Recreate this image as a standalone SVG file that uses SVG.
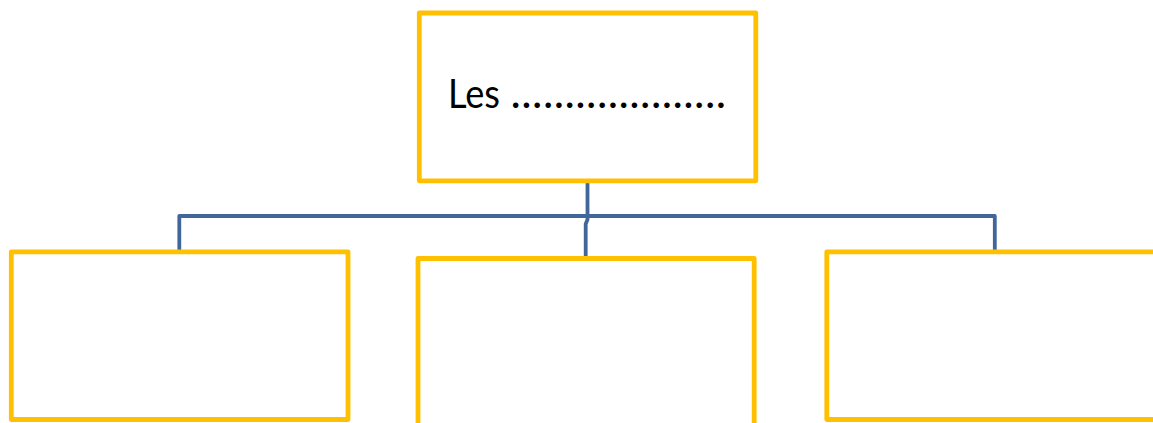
<svg xmlns="http://www.w3.org/2000/svg" width="1153" height="423" viewBox="0 0 1153 423">
<style>
.box{fill:#FFFFFF;stroke:#FFC000;stroke-width:4.8;stroke-linejoin:round}
.conn{fill:none;stroke:#41679A;stroke-width:3.8;stroke-linejoin:round}
.t{font-family:Lato,"Open Sans","Liberation Sans",sans-serif;font-size:40px;fill:#000000}
.dots{font-size:44px}
</style>
<rect width="1153" height="423" fill="#FFFFFF"/>
<g id="connectors">
<path class="conn" d="M587.5 183 V216"/>
<path class="conn" d="M587.5 216 H179.3 V251"/>
<path class="conn" d="M587.5 216 H994.8 V251"/>
<path class="conn" d="M587.5 216 V219.5 L585.7 224 V258"/>
</g>
<g id="node-top">
<rect class="box" x="419.3" y="13" width="336.5" height="167.8"/>
<text class="t" x="448" y="108"><tspan textLength="52" lengthAdjust="spacingAndGlyphs">Les</tspan><tspan class="dots" x="510.5 521.3 532.1 542.9 553.7 564.5 575.3 586.1 596.9 607.7 618.5 629.3 640.1 650.9 661.7 672.5 683.3 694.1 704.9 715.7">....................</tspan></text>
</g>
<g id="node-left">
<rect class="box" x="11.3" y="251.8" width="336.7" height="167.7"/>
</g>
<g id="node-middle">
<rect class="box" x="418" y="258.5" width="336.2" height="200"/>
</g>
<g id="node-right">
<rect class="box" x="826.8" y="251.8" width="340" height="167.7"/>
</g>
</svg>
